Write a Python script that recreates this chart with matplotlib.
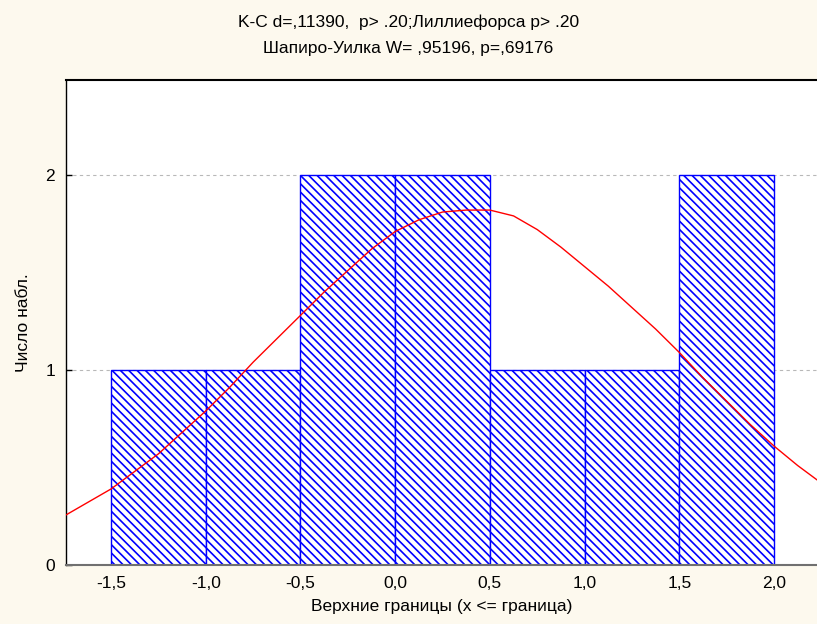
import matplotlib
matplotlib.use("Agg")
import matplotlib.pyplot as plt

plt.rcParams['font.family'] = ['Liberation Sans', 'DejaVu Sans']
plt.rcParams['hatch.linewidth'] = 1.2
plt.rcParams['hatch.color'] = '#4a4aff'

# Data
bin_edges = [-1.5, -1.0, -0.5, 0.0, 0.5, 1.0, 1.5, 2.0]
counts = [1, 1, 2, 2, 1, 1, 2]
curve_x = [-1.75, -1.625, -1.5, -1.375, -1.25, -1.125, -1.0, -0.875, -0.75, -0.625,
           -0.5, -0.375, -0.25, -0.125, 0.0, 0.125, 0.25, 0.375, 0.5, 0.625,
           0.75, 0.875, 1.0, 1.125, 1.25, 1.375, 1.5, 1.625, 1.75, 1.875,
           2.0, 2.125, 2.25]
curve_y = [0.25, 0.32, 0.39, 0.48, 0.57, 0.68, 0.79, 0.91, 1.04, 1.16,
           1.28, 1.40, 1.51, 1.62, 1.71, 1.77, 1.81, 1.82, 1.82, 1.79,
           1.72, 1.63, 1.53, 1.43, 1.32, 1.21, 1.09, 0.96, 0.84, 0.72,
           0.61, 0.51, 0.42]
xticks = [-1.5, -1.0, -0.5, 0.0, 0.5, 1.0, 1.5, 2.0]
xtick_labels = ['-1,5', '-1,0', '-0,5', '0,0', '0,5', '1,0', '1,5', '2,0']
yticks = [0, 1, 2]
ytick_labels = ['0', '1', '2']
title1 = 'K-C d=,11390,  p> .20;Лиллиефорса p> .20'
title2 = 'Шапиро-Уилка W= ,95196, p=,69176'
xlabel = 'Верхние границы (x <= граница)'
ylabel = 'Число набл.'

bg = '#fdf9ee'
fs = 12.5
fig = plt.figure(figsize=(8.17, 6.24), dpi=100, facecolor=bg)
ax = fig.add_axes([66/817, 1-565/624, 1-66/817, (565-80)/624])
ax.set_facecolor('white')

widths = [bin_edges[i+1] - bin_edges[i] for i in range(len(counts))]
ax.bar(bin_edges[:-1], counts, width=widths, align='edge', color='white',
       edgecolor='#0000ff', linewidth=1.0, hatch='\\\\\\\\', zorder=2)
ax.plot(curve_x, curve_y, color='#ff0000', linewidth=1.0, zorder=3)

ax.set_xlim(-1.738, 2.227)
ax.set_ylim(0, 2.487)
ax.set_xticks(xticks)
ax.set_xticklabels(xtick_labels, fontsize=fs)
ax.set_yticks(yticks)
ax.set_yticklabels(ytick_labels, fontsize=fs)
ax.tick_params(axis='x', length=0, pad=8)
ax.tick_params(axis='y', direction='in', length=4, width=1, pad=8)
ax.yaxis.grid(True, linestyle=(0, (3, 3)), color='#b8b8b8', linewidth=0.8, zorder=0)
ax.set_axisbelow(True)

ax.spines['right'].set_visible(False)
ax.spines['top'].set_color('black')
ax.spines['top'].set_linewidth(1.5)
ax.spines['left'].set_color('black')
ax.spines['left'].set_linewidth(1.0)
ax.spines['bottom'].set_color('#707070')
ax.spines['bottom'].set_linewidth(1.5)

ax.set_xlabel(xlabel, fontsize=fs, labelpad=6)
ax.set_ylabel(ylabel, fontsize=fs, labelpad=10)

fig.text(0.5, 1-22/624, title1, ha='center', va='center', fontsize=fs)
fig.text(0.5, 1-49/624, title2, ha='center', va='center', fontsize=fs)

fig.savefig('out.png', dpi=100, facecolor=bg)
